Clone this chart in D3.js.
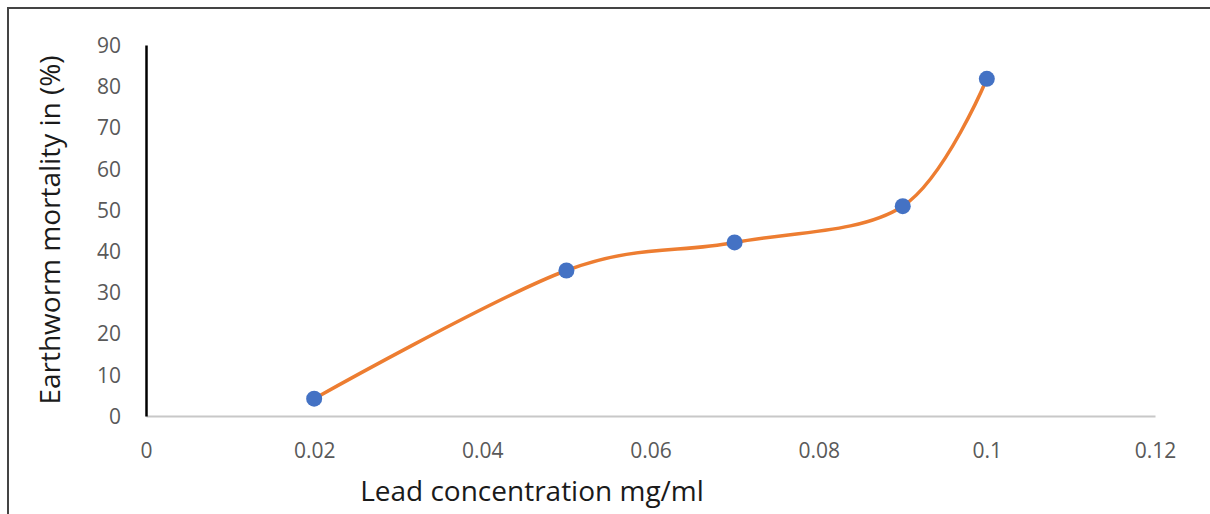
<!DOCTYPE html>
<html>
<head>
<meta charset="utf-8">
<script src="https://cdn.jsdelivr.net/npm/d3@7"></script>
<style>
  body { margin: 0; background: #fff; }
  svg { display: block; }
  .tick text { fill: #595959; font-family: "Open Sans", sans-serif; font-size: 21px; }
</style>
</head>
<body>
<svg id="chart" width="1210" height="514"></svg>
<script>
var concentration = [0.02, 0.05, 0.07, 0.09, 0.1];
var mortality = [4.2, 35.3, 42.1, 50.9, 81.8];
var xTicks = [0, 0.02, 0.04, 0.06, 0.08, 0.1, 0.12];
var yTicks = [0, 10, 20, 30, 40, 50, 60, 70, 80, 90];

var svg = d3.select("#chart"),
    margin = {top: 45, right: 55, bottom: 98, left: 146},
    width = +svg.attr("width") - margin.left - margin.right,
    height = +svg.attr("height") - margin.top - margin.bottom;

// outer frame (only top and left edges show in the crop)
svg.append("rect")
    .attr("x", 8).attr("y", 8)
    .attr("width", 1230).attr("height", 530)
    .attr("fill", "none")
    .attr("stroke", "#444")
    .attr("stroke-width", 2);

var x = d3.scaleLinear().domain([0, 0.12]).range([0, width]);
var y = d3.scaleLinear().domain([0, 90]).range([height, 0]);

var g = svg.append("g")
    .attr("transform", "translate(" + margin.left + "," + margin.top + ")");

var xAxis = g.append("g")
    .attr("transform", "translate(0," + height + ")")
    .call(d3.axisBottom(x).tickValues(xTicks).tickSize(0).tickPadding(27)
      .tickFormat(function(d) { return d3.format("~g")(d); }));
xAxis.select(".domain").attr("stroke", "#c8c8c8").attr("stroke-width", 2);

var yAxis = g.append("g")
    .call(d3.axisLeft(y).tickValues(yTicks).tickSize(0).tickPadding(25));
yAxis.select(".domain").attr("stroke", "#000").attr("stroke-width", 2.5);
yAxis.selectAll(".tick text").attr("dy", "0.35em");

var data = concentration.map(function(c, i) { return {c: c, m: mortality[i]}; });

var line = d3.line()
    .x(function(d) { return x(d.c); })
    .y(function(d) { return y(d.m); })
    .curve(d3.curveCardinal.tension(0));

g.append("path")
    .datum(data)
    .attr("d", line)
    .attr("fill", "none")
    .attr("stroke", "#ed7d31")
    .attr("stroke-width", 3.5);

g.selectAll(".dot")
    .data(data)
  .enter().append("circle")
    .attr("class", "dot")
    .attr("cx", function(d) { return x(d.c); })
    .attr("cy", function(d) { return y(d.m); })
    .attr("r", 8)
    .attr("fill", "#4472c4");

svg.append("text")
    .attr("x", 532).attr("y", 501)
    .attr("text-anchor", "middle")
    .attr("font-family", "Open Sans, sans-serif")
    .attr("font-size", 28)
    .attr("fill", "#1a1a1a")
    .text("Lead concentration mg/ml");

svg.append("text")
    .attr("transform", "translate(60,230) rotate(-90)")
    .attr("text-anchor", "middle")
    .attr("font-family", "Open Sans, sans-serif")
    .attr("font-size", 28)
    .attr("fill", "#1a1a1a")
    .text("Earthworm mortality in (%)");
</script>
</body>
</html>
